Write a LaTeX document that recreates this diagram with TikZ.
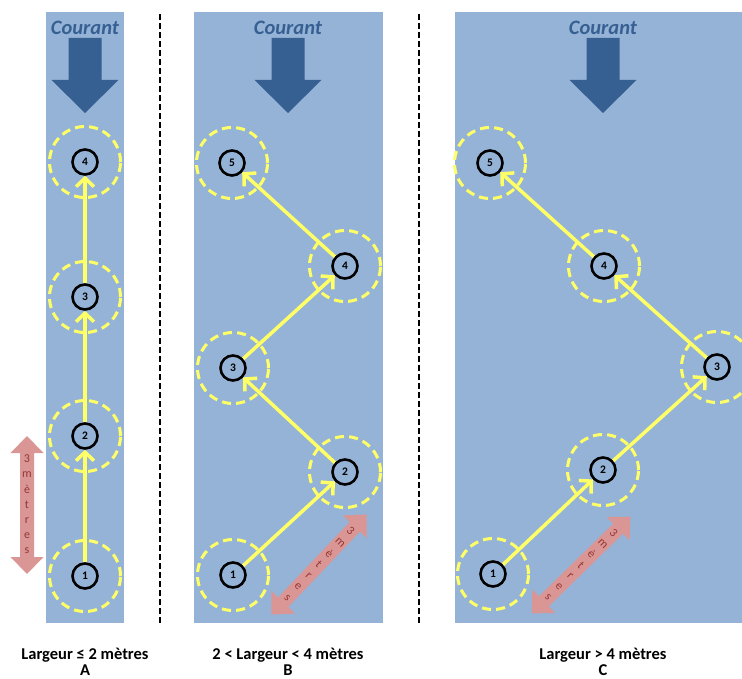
\documentclass[tikz,border=0pt]{standalone}
\usepackage{fontspec}
\setmainfont{Carlito}
\usetikzlibrary{arrows.meta}
\definecolor{panel}{HTML}{95B3D7}
\definecolor{flowblue}{HTML}{376092}
\definecolor{yel}{HTML}{FFFF66}
\definecolor{pinkarrow}{HTML}{D99694}
\definecolor{pinktext}{HTML}{953735}
\tikzset{
  panelbg/.style={fill=panel, draw=none},
  sepline/.style={draw=black, line width=1.8pt, dash pattern=on 6pt off 3pt},
  spot/.style={circle, draw=black, line width=2.6pt, minimum size=25pt, inner sep=0pt,
    font=\bfseries\fontsize{11.5}{11.5}\selectfont},
  zone/.style={circle, draw=yel, line width=3pt, dash pattern=on 9pt off 5.2pt,
    minimum size=71pt, inner sep=0pt},
  move/.style={draw=yel, line width=3.5pt, -{Straight Barb[length=8.5pt,width=18pt]}},
  courant/.style={text=flowblue, font=\bfseries\itshape\fontsize{20.5}{20.5}\selectfont},
  caption/.style={font=\bfseries\fontsize{16.5}{16.5}\selectfont, anchor=base, inner sep=0pt},
  mtext/.style={text=pinktext, font=\fontsize{12}{12}\selectfont, inner sep=0pt, transform shape},
  flowarrow/.pic={
    \fill[flowblue] (-16.5,38) -- (16.5,38) -- (16.5,80) -- (33.5,80) -- (0,113)
      -- (-33.5,80) -- (-16.5,80) -- cycle;
  },
  measure/.pic={
    \fill[pinkarrow] (0,-69) -- (16.5,-52) -- (7,-52) -- (7,52) -- (16.5,52) -- (0,69)
      -- (-16.5,52) -- (-7,52) -- (-7,-52) -- (-16.5,-52) -- cycle;
    \foreach \l [count=\i from 0] in {3,m,è,t,r,e,s}
      \node[mtext] at (0,-46+15.33*\i) {\l};
  }
}
\begin{document}
\begin{tikzpicture}[x=1pt,y=-1pt]
\useasboundingbox (0,0) rectangle (742,679);
\clip (0,0) rectangle (742,679);
% panels
\fill[panelbg] (46,12) rectangle (124,623);
\fill[panelbg] (194,12) rectangle (383,623);
\fill[panelbg] (455,12) rectangle (742,623);
% separators
\draw[sepline] (160,14) -- (160,624);
\draw[sepline] (419,14) -- (419,624);
% current
\node[courant] (cta) at (85,27.5) {Courant};
\node[courant] (ctb) at (288,27.5) {Courant};
\node[courant] (ctc) at (603,27.5) {Courant};
\pic at (85,0) {flowarrow};
\pic at (288,0) {flowarrow};
\pic at (603,0) {flowarrow};
% measures
\pic at (27,505) {measure};
\pic[rotate=-43.5] at (319,564.5) {measure};
\pic[rotate=-45.6] at (581,565) {measure};
% panel A
\foreach \n/\x/\y in {1/85/576, 2/85/436, 3/85/297, 4/85/162} {
  \node[zone] (za\n) at (\x,\y) {};
  \node[spot] (a\n) at (\x,\y) {\n};
}
\draw[move] (a1) -- (a2);
\draw[move] (a2) -- (a3);
\draw[move] (a3) -- (a4);
% panel B
\foreach \n/\x/\y in {1/233/575, 2/345/472, 3/233/368, 4/345/266, 5/232/163} {
  \node[zone] (zb\n) at (\x,\y) {};
  \node[spot] (b\n) at (\x,\y) {\n};
}
\draw[move] (b1) -- (b2);
\draw[move] (b2) -- (b3);
\draw[move] (b3) -- (b4);
\draw[move] (b4) -- (b5);
% panel C
\foreach \n/\x/\y in {1/493/574, 2/603/470, 3/717/367, 4/604/266, 5/490/163} {
  \node[zone] (zc\n) at (\x,\y) {};
  \node[spot] (c\n) at (\x,\y) {\n};
}
\draw[move] (c1) -- (c2);
\draw[move] (c2) -- (c3);
\draw[move] (c3) -- (c4);
\draw[move] (c4) -- (c5);
% captions
\node[caption] (la) at (85,659) {Largeur ≤ 2 mètres};
\node[caption] (ka) at (85,675.5) {A};
\node[caption] (lb) at (288,659) {2 < Largeur < 4 mètres};
\node[caption] (kb) at (288,675.5) {B};
\node[caption] (lc) at (603,659) {Largeur > 4 mètres};
\node[caption] (kc) at (603,675.5) {C};
\end{tikzpicture}
\end{document}
